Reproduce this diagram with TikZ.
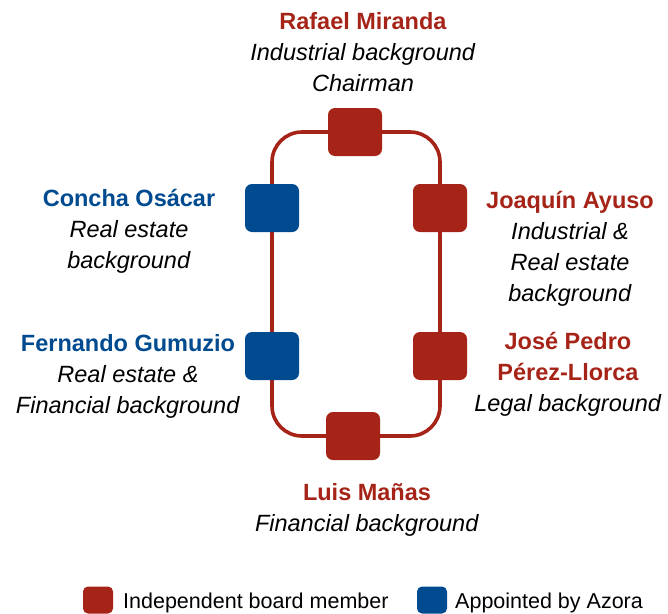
\documentclass[tikz,border=0pt]{standalone}
\usepackage{fontspec}
\setmainfont{Liberation Sans}
\usetikzlibrary{backgrounds}
\definecolor{indepred}{HTML}{A62318}
\definecolor{azorablue}{HTML}{004A8F}

\tikzset{
  member/.style={rectangle, rounded corners=7pt, minimum width=54pt, minimum height=48pt, inner sep=0pt},
  indep/.style={member, fill=indepred},
  azora/.style={member, fill=azorablue},
  boardline/.style={indepred, line width=3.6pt, rounded corners=30pt},
  profile/.style={align=center, anchor=base, inner sep=0pt, font=\fontsize{23.5}{31}\selectfont},
  legendbox/.style={rectangle, rounded corners=5pt, minimum width=30pt, minimum height=27pt, inner sep=0pt},
  legendtext/.style={anchor=base west, inner sep=0pt, font=\fontsize{21.5}{26}\selectfont}
}

\begin{document}
\begin{tikzpicture}[x=1pt,y=-1pt]
  \useasboundingbox (0,0) rectangle (668,613);

  % board members
  \node[indep] (miranda) at (355,132) {};
  \node[azora] (osacar) at (272,208) {};
  \node[indep] (ayuso) at (440,208) {};
  \node[azora] (gumuzio) at (272,356) {};
  \node[indep] (perez) at (440,356) {};
  \node[indep] (manas) at (353,436) {};

  % loop
  \begin{pgfonlayer}{background}
    \draw[boardline] (miranda.west) -| (osacar.north);
    \draw[boardline] (miranda.east) -| (ayuso.north);
    \draw[boardline] (osacar) -- (gumuzio);
    \draw[boardline] (ayuso) -- (perez);
    \draw[boardline] (gumuzio.south) |- (manas.west);
    \draw[boardline] (perez.south) |- (manas.east);
  \end{pgfonlayer}

  % names and backgrounds (anchored at the last line)
  \node[profile] (mirandatext) at (363,91) {\textcolor{indepred}{\textbf{Rafael Miranda}}\\\textit{Industrial background}\\\textit{Chairman}};
  \node[profile] (osacartext) at (129,268) {\textcolor{azorablue}{\textbf{Concha Osácar}}\\\textit{Real estate}\\\textit{background}};
  \node[profile] (ayusotext) at (570,301) {\textcolor{indepred}{\textbf{Joaquín Ayuso}}\\\textit{Industrial \&}\\\textit{Real estate}\\\textit{background}};
  \node[profile] (gumuziotext) at (128,413) {\textcolor{azorablue}{\textbf{Fernando Gumuzio}}\\\textit{Real estate \&}\\\textit{Financial background}};
  \node[profile] (pereztext) at (568,411) {\textcolor{indepred}{\textbf{José Pedro}}\\\textcolor{indepred}{\textbf{Pérez-Llorca}}\\\textit{Legal background}};
  \node[profile] (manastext) at (367,531) {\textcolor{indepred}{\textbf{Luis Mañas}}\\\textit{Financial background}};

  % legend
  \node[legendbox, fill=indepred] (indepkey) at (98,600) {};
  \node[legendtext] (indeplabel) at (123,608) {Independent board member};
  \node[legendbox, fill=azorablue] (azorakey) at (432,600) {};
  \node[legendtext] (azoralabel) at (455,608) {Appointed by Azora};
\end{tikzpicture}
\end{document}
